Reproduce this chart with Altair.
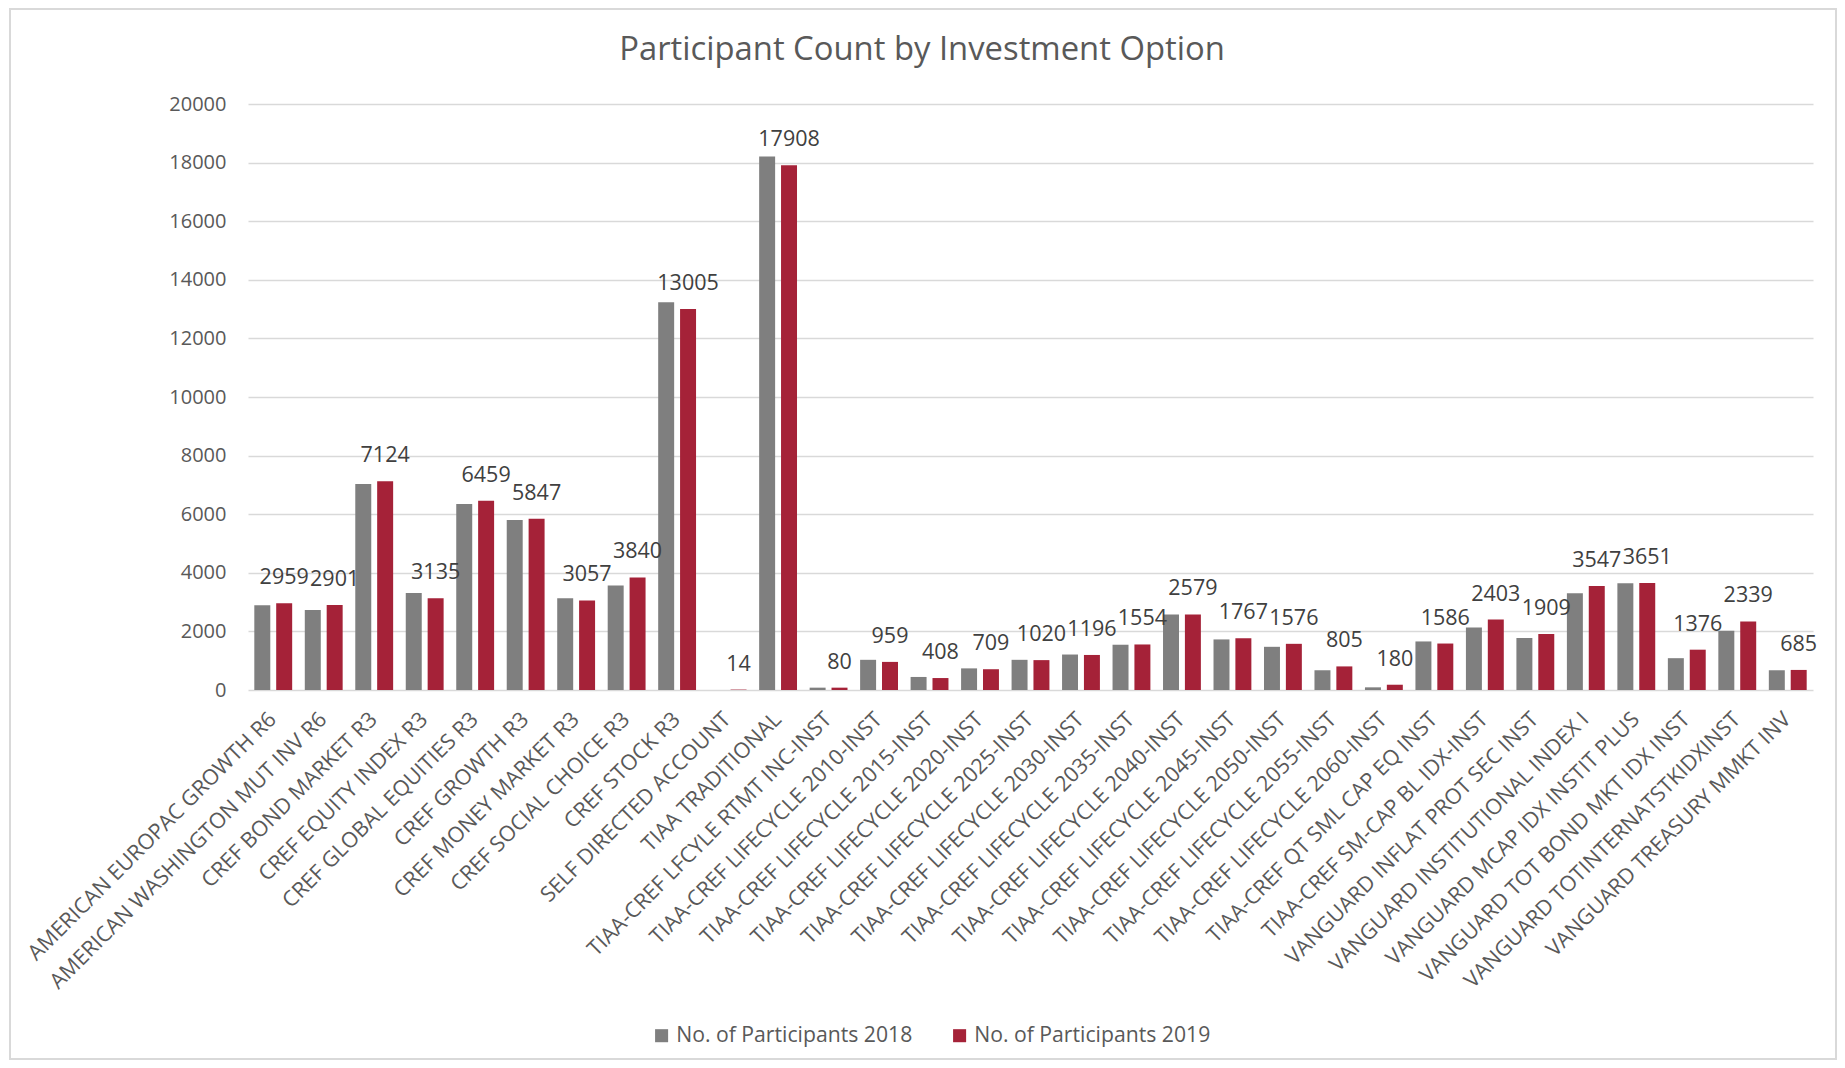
import altair as alt
import pandas as pd

title_text = "Participant Count by Investment Option"

options = [
    "AMERICAN EUROPAC GROWTH R6",
    "AMERICAN WASHINGTON MUT INV R6",
    "CREF BOND MARKET R3",
    "CREF EQUITY INDEX R3",
    "CREF GLOBAL EQUITIES R3",
    "CREF GROWTH R3",
    "CREF MONEY MARKET R3",
    "CREF SOCIAL CHOICE R3",
    "CREF STOCK R3",
    "SELF DIRECTED ACCOUNT",
    "TIAA TRADITIONAL",
    "TIAA-CREF LFCYLE RTMT INC-INST",
    "TIAA-CREF LIFECYCLE 2010-INST",
    "TIAA-CREF LIFECYCLE 2015-INST",
    "TIAA-CREF LIFECYCLE 2020-INST",
    "TIAA-CREF LIFECYCLE 2025-INST",
    "TIAA-CREF LIFECYCLE 2030-INST",
    "TIAA-CREF LIFECYCLE 2035-INST",
    "TIAA-CREF LIFECYCLE 2040-INST",
    "TIAA-CREF LIFECYCLE 2045-INST",
    "TIAA-CREF LIFECYCLE 2050-INST",
    "TIAA-CREF LIFECYCLE 2055-INST",
    "TIAA-CREF LIFECYCLE 2060-INST",
    "TIAA-CREF QT SML CAP EQ INST",
    "TIAA-CREF SM-CAP BL IDX-INST",
    "VANGUARD INFLAT PROT SEC INST",
    "VANGUARD INSTITUTIONAL INDEX I",
    "VANGUARD MCAP IDX INSTIT PLUS",
    "VANGUARD TOT BOND MKT IDX INST",
    "VANGUARD TOTINTERNATSTKIDXINST",
    "VANGUARD TREASURY MMKT INV",
]

p2018 = [2895, 2728, 7030, 3313, 6348, 5805, 3132, 3564, 13238, 0, 18207,
         80, 1030, 445, 738, 1030, 1211, 1545, 2575, 1726, 1474, 674, 91,
         1657, 2137, 1772, 3303, 3646, 1086, 2023, 674]

p2019 = [2959, 2901, 7124, 3135, 6459, 5847, 3057, 3840, 13005, 14, 17908,
         80, 959, 408, 709, 1020, 1196, 1554, 2579, 1767, 1576, 805, 180,
         1586, 2403, 1909, 3547, 3651, 1376, 2339, 685]

series = ["No. of Participants  2018", "No. of Participants 2019"]
colors = ["#7F7F7F", "#A52238"]
y_ticks = [0, 2000, 4000, 6000, 8000, 10000, 12000, 14000, 16000, 18000, 20000]

rows = []
for o, a, b in zip(options, p2018, p2019):
    rows.append({"option": o, "series": series[0], "count": a})
    rows.append({"option": o, "series": series[1], "count": b})
df = pd.DataFrame(rows)

FONT = "Open Sans"
W, H = 1565, 586

base = alt.Chart(df).encode(
    x=alt.X(
        "option:N",
        sort=options,
        scale=alt.Scale(paddingInner=0.25, paddingOuter=0.125),
        axis=alt.Axis(
            title=None,
            labelAngle=-45,
            labelAlign="right",
            labelBaseline="middle",
            labelPadding=26,
            labelFontSize=21.5,
            labelFont=FONT,
            labelColor="#595959",
            labelLimit=0,
            ticks=False,
            domain=False,
        ),
    ),
    xOffset=alt.XOffset(
        "series:N", sort=series, scale=alt.Scale(domain=series, paddingInner=0.27)
    ),
    y=alt.Y(
        "count:Q",
        scale=alt.Scale(domain=[0, 20000], nice=False),
        axis=alt.Axis(
            title=None,
            values=y_ticks,
            format="d",
            labelFontSize=20,
            labelFont=FONT,
            labelColor="#595959",
            labelPadding=22,
            ticks=False,
            domain=False,
            gridColor="#D9D9D9",
            gridWidth=1.5,
        ),
    ),
)

bars = base.mark_bar().encode(
    color=alt.Color(
        "series:N",
        scale=alt.Scale(domain=series, range=colors),
        legend=alt.Legend(
            title=None,
            orient="none",
            direction="horizontal",
            legendX=403,
            legendY=921,
            symbolType="square",
            symbolSize=170,
            symbolStrokeWidth=0,
            labelFontSize=21.2,
            labelFont=FONT,
            labelColor="#595959",
            labelLimit=0,
            columnPadding=31,
            padding=0,
        ),
    )
)

labels = base.transform_filter(alt.datum.series == series[1]).mark_text(
    baseline="alphabetic", dy=-19, fontSize=21.5, font=FONT, color="#404040"
).encode(text=alt.Text("count:Q", format="d"))

frame = alt.Chart(pd.DataFrame({"f": [0]})).mark_rect(
    fill="transparent", stroke="#D9D9D9", strokeWidth=2
).encode(
    x=alt.value(-238), x2=alt.value(1588), y=alt.value(-95), y2=alt.value(955)
)

title = alt.Chart(pd.DataFrame({"t": [title_text]})).mark_text(
    fontSize=32.8, font=FONT, color="#595959", baseline="middle", align="center"
).encode(text="t:N", x=alt.value(674), y=alt.value(-54))

chart = alt.layer(frame, bars, labels, title).properties(
    width=W,
    height=H,
    autosize=alt.AutoSizeParams(type="none"),
    padding={"left": 240, "top": 96, "right": 24, "bottom": 370},
).configure_view(strokeWidth=0)

chart.save("out.html", embed_options={"renderer": "svg", "actions": False})
